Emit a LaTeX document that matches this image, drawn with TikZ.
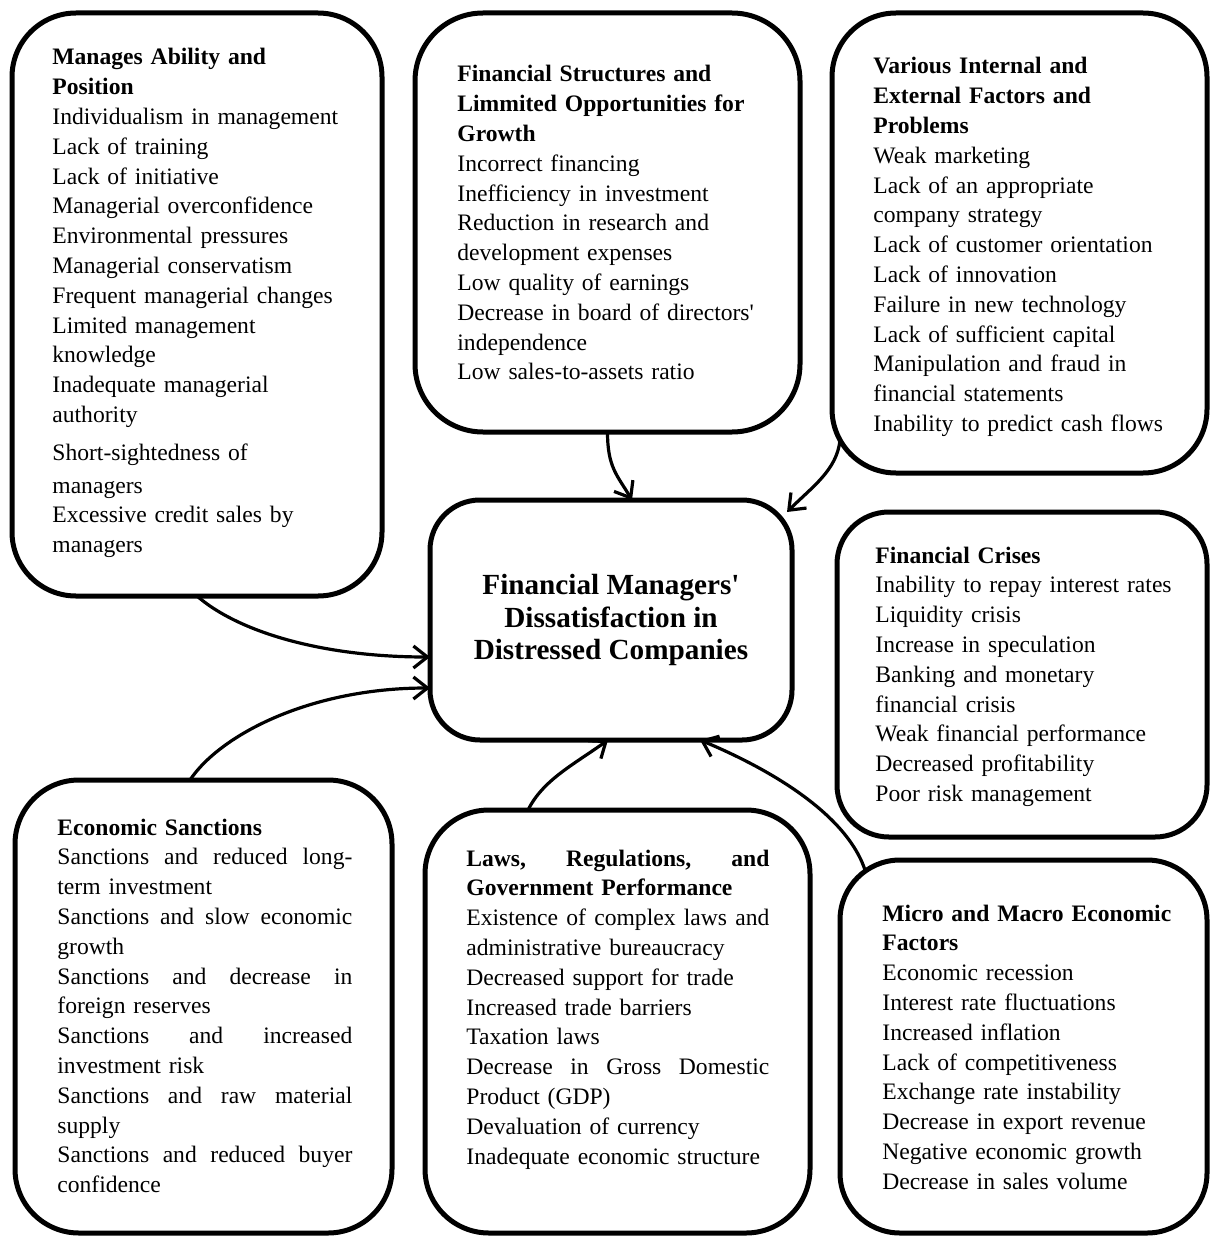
\documentclass[tikz,border=0pt]{standalone}
\usepackage{fontspec}
\setmainfont{Liberation Serif}
\usetikzlibrary{arrows.meta}

\newcommand{\jline}[1]{\makebox[\hsize][s]{\spaceskip=0pt\xspaceskip=0pt #1}}

\tikzset{
	factor/.style={draw, rectangle, line width=2.5pt, inner sep=0pt, outer sep=0pt},
	items/.style={anchor=base west, inner sep=0pt, align=left, text width=#1,
		font=\fontsize{11.8pt}{14.9pt}\selectfont},
	items/.default=170pt,
	link/.style={line width=1.6pt, -{Straight Barb[length=7pt,width=11pt]}}
}

\begin{document}
\begin{tikzpicture}[x=0.5pt,y=-0.5pt]
			\useasboundingbox (0,0) rectangle (1211,1236);
			
			%Central box
			\node[factor, rounded corners=25pt, minimum width=181pt, minimum height=120pt,
				align=center, font=\bfseries\fontsize{14.6pt}{16.3pt}\selectfont] (FM) at (611,620)
				{Financial Managers\textquotesingle\\Dissatisfaction in\\Distressed Companies};
			
			%Manages ability
			\node[factor, rounded corners=32pt, minimum width=185pt, minimum height=291.5pt] (MA) at (197,304.5) {};
			\node[items] (MAtext) at (52,65) {\textbf{Manages Ability and}\\
				\textbf{Position}\\
				Individualism in management\\
				Lack of training\\
				Lack of initiative\\
				Managerial overconfidence\\
				Environmental pressures\\
				Managerial conservatism\\
				Frequent managerial changes\\
				Limited management\\
				knowledge\\
				Inadequate managerial\\
				authority\\[4pt]
				Short-sightedness of\\[1.5pt]
				managers\\
				Excessive credit sales by\\
				managers};
			
			%Financial structures
			\node[factor, rounded corners=34pt, minimum width=192.5pt, minimum height=209.5pt] (FS) at (607.5,222.5) {};
			\node[items] (FStext) at (457,82) {\textbf{Financial Structures and}\\
				\textbf{Limmited Opportunities for}\\
				\textbf{Growth}\\
				Incorrect financing\\
				Inefficiency in investment\\
				Reduction in research and\\
				development expenses\\
				Low quality of earnings\\
				Decrease in board of directors\textquotesingle\\
				independence\\
				Low sales-to-assets ratio};
			
			%Various factors
			\node[factor, rounded corners=32pt, minimum width=187.5pt, minimum height=230pt] (VF) at (1019.5,243) {};
			\node[items] (VFtext) at (873,74) {\textbf{Various Internal and}\\
				\textbf{External Factors and}\\
				\textbf{Problems}\\
				Weak marketing\\
				Lack of an appropriate\\
				company strategy\\
				Lack of customer orientation\\
				Lack of innovation\\
				Failure in new technology\\
				Lack of sufficient capital\\
				Manipulation and fraud in\\
				financial statements\\
				Inability to predict cash flows};
			
			%Financial crises
			\node[factor, rounded corners=26pt, minimum width=185pt, minimum height=162.5pt] (FC) at (1022,674.5) {};
			\node[items] (FCtext) at (875,563) {\textbf{Financial Crises}\\
				Inability to repay interest rates\\
				Liquidity crisis\\
				Increase in speculation\\
				Banking and monetary\\
				financial crisis\\
				Weak financial performance\\
				Decreased profitability\\
				Poor risk management};
			
			%Economic sanctions
			\node[factor, rounded corners=32pt, minimum width=188.5pt, minimum height=226.5pt] (ES) at (203.5,1006.5) {};
			\node[items=147.5pt] (EStext) at (57,835) {\textbf{Economic Sanctions}\\
				\jline{Sanctions and reduced long-}\\
				term investment\\
				\jline{Sanctions and slow economic}\\
				growth\\
				\jline{Sanctions and decrease in}\\
				foreign reserves\\
				\jline{Sanctions and increased}\\
				investment risk\\
				\jline{Sanctions and raw material}\\
				supply\\
				\jline{Sanctions and reduced buyer}\\
				confidence};
			
			%Laws and regulations
			\node[factor, rounded corners=32pt, minimum width=192.5pt, minimum height=211.5pt] (LR) at (617.5,1021.5) {};
			\node[items=151.5pt] (LRtext) at (466,866) {\jline{\textbf{Laws, Regulations, and}}\\
				\textbf{Government Performance}\\
				\jline{Existence of complex laws and}\\
				administrative bureaucracy\\
				Decreased support for trade\\
				Increased trade barriers\\
				Taxation laws\\
				\jline{Decrease in Gross Domestic}\\
				Product (GDP)\\
				Devaluation of currency\\
				Inadequate economic structure};
			
			%Micro and macro
			\node[factor, rounded corners=30pt, minimum width=183.5pt, minimum height=186.5pt] (ME) at (1023.5,1046.5) {};
			\node[items] (MEtext) at (882,921) {\textbf{Micro and Macro Economic}\\
				\textbf{Factors}\\
				Economic recession\\
				Interest rate fluctuations\\
				Increased inflation\\
				Lack of competitiveness\\
				Exchange rate instability\\
				Decrease in export revenue\\
				Negative economic growth\\
				Decrease in sales volume};
			
			%Links into the central box
			\draw[link] (MA.south) .. controls +(40,35) and +(-110,0) .. ([yshift=-18.5pt]FM.west);
			\draw[link] ([xshift=-6.75pt]ES.north) .. controls +(30,-45) and +(-120,0) .. ([yshift=-34pt]FM.west);
			\draw[link] (FS.south) .. controls +(0,35) and +(-15,-25) .. ([xshift=10.5pt]FM.north);
			\draw[link] ([xshift=4pt,yshift=16.5pt]VF.south west) .. controls +(-3,30) and +(25,-25) .. ([xshift=-2.5pt,yshift=-6pt]FM.north east);
			\draw[link] ([xshift=-44.75pt]LR.north) .. controls +(15,-30) and +(-35,25) .. ([xshift=-1.5pt]FM.south);
			\draw[link] ([xshift=12.5pt,yshift=-5pt]ME.north west) .. controls +(-20,-60) and +(60,25) .. ([xshift=44.5pt]FM.south);
		\end{tikzpicture}
\end{document}
